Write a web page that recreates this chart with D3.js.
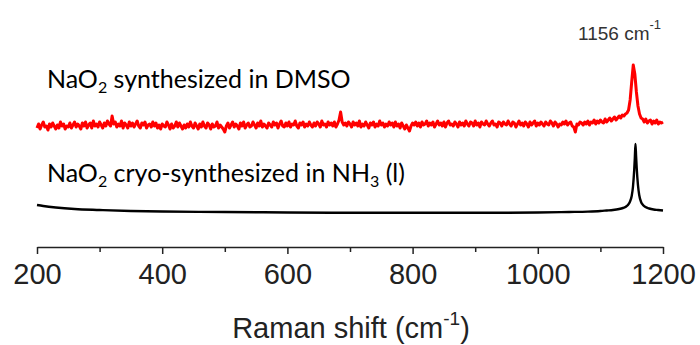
<!DOCTYPE html>
<html>
<head>
<meta charset="utf-8">
<script src="https://cdn.jsdelivr.net/npm/d3@7"></script>
<style>
  html, body { margin: 0; padding: 0; background: #fff; }
  svg { display: block; }
</style>
</head>
<body>
<svg id="chart" width="700" height="345"></svg>
<script>
// Raman shift axis (cm^-1)
const majorTicks = [200, 400, 600, 800, 1000, 1200]
const minorTicks = [300, 500, 700, 900, 1100]

// red trace: NaO2 synthesized in DMSO, sampled every 2.5 cm^-1 from 200 to 1200
const redStart = 200
const redStep = 2.5
const redCounts = [
  52, 54, 51.5, 53.5, 55, 52.5, 53, 51, 54, 52.5, 54.5, 53, 51.5, 53.5, 52, 55, 53, 54, 51.5, 53, 52.5, 54.5, 52, 53.5, 55,
  52.5, 54, 53, 51.5, 54.5, 53, 55, 52, 53.5, 54.5, 52, 55.5, 53, 54, 52.5, 55, 53.5, 52, 54.5, 53, 55.5, 54, 53, 58, 54,
  55, 52.5, 54, 53, 55.5, 52, 54.5, 53.5, 52, 55, 53, 54.5, 52.5, 54, 55.5, 53, 52, 54.5, 53.5, 55, 52, 53.5, 54, 52.5, 55,
  53, 54.5, 52, 53.5, 51.5, 54, 53, 52.5, 55, 53.5, 51.5, 54, 52, 53, 55, 52.5, 54.5, 53, 51.5, 53.5, 52, 54, 52.5, 55, 53,
  52, 54.5, 53, 51.5, 54, 52.5, 55, 53, 52, 54.5, 53.5, 51.5, 54, 52.5, 53, 55, 52, 53.5, 52.5, 51.5, 50, 53, 54.5, 52, 53.5,
  55, 52.5, 54, 53, 51.5, 54.5, 53, 55, 52, 53.5, 54.5, 52.5, 53, 55, 53.5, 52, 54.5, 53, 55.5, 52.5, 54, 53, 52, 54.5, 53.5,
  52.5, 55, 53.5, 54.5, 52, 54, 55.5, 53, 52.5, 54.5, 53, 55, 52.5, 54, 53.5, 55.5, 53, 52, 54.5, 53.5, 55, 52.5, 54, 53, 55,
  53.5, 52.5, 54.5, 53, 55, 54, 52.5, 55.5, 53.5, 54, 52.5, 55, 53.5, 54.5, 53, 55, 52.5, 54, 56, 60, 55, 53.5, 54.5, 53, 55,
  54, 52.5, 55, 53.5, 54.5, 53, 55.5, 52.5, 54, 53, 55, 53.5, 52, 54.5, 53.5, 55, 52.5, 54, 53, 55.5, 53.5, 54.5, 52.5, 54, 53,
  55, 53.5, 54.5, 52.5, 55, 53, 54, 52, 54.5, 53, 51.5, 53.5, 52, 50.5, 53, 54.5, 53.5, 55, 53, 54.5, 52.5, 55, 53.5, 54, 55.5,
  53, 54.5, 53.5, 55, 52.5, 54, 55.5, 53.5, 54.5, 53, 55, 52.5, 54.5, 55.5, 53.5, 54, 53, 55, 54, 52.5, 55, 53.5, 54.5, 53, 55.5,
  54, 53, 55, 54.5, 53, 55.5, 53.5, 54.5, 52.5, 55, 54, 53.5, 55.5, 54, 53, 54.5, 55.5, 53.5, 54, 52.5, 55, 54.5, 53, 55, 54,
  53.5, 55.5, 54, 53, 55, 54.5, 52.5, 54, 55.5, 53.5, 54.5, 53, 55, 54, 52.5, 55, 53.5, 54.5, 55.5, 53, 54.5, 53.5, 55, 54, 53,
  55, 54, 53.5, 55.5, 54.5, 53, 55, 54, 52.5, 54, 53.5, 55, 54, 55.5, 53.5, 54.5, 55, 53, 52.5, 50, 54, 53.5, 55, 54.5, 53.5,
  55, 54, 55.5, 53.5, 55, 54.5, 56, 54, 55.5, 54.5, 56, 55, 54.5, 56.5, 55, 56, 57, 55.5, 56.5, 57.5, 56, 57, 58, 57, 58.5,
  58, 59, 59.5, 61, 66, 75, 83.5, 79, 70, 63, 59, 57, 56.5, 55, 56.5, 54.5, 55.5, 56, 54, 55.5, 54.5, 56, 54, 55, 54.5,
  55
]

// black trace: NaO2 cryo-synthesized in NH3 (l)
const blackShift = [200, 210, 230, 260, 300, 350, 400, 500, 600, 700, 800, 900, 1000, 1050, 1080,
  1100, 1110, 1120, 1130, 1136, 1140, 1144, 1147, 1150, 1152, 1154, 1155, 1156, 1157, 1158, 1160,
  1162, 1165, 1168, 1172, 1178, 1185, 1192, 1200]
const blackCounts = [13.5, 13, 12.25, 11.5, 11, 10.5, 10.25, 10, 9.75, 9.6, 9.6, 9.6, 9.75, 10, 10.2,
  10.5, 10.75, 11, 11.5, 12, 12.5, 13.5, 15, 18, 22.5, 31, 37, 44, 38, 32, 23.5,
  18.5, 15, 13.5, 12.5, 11.75, 11.25, 11, 10.75]

const seriesLabels = ['synthesized in DMSO', 'cryo-synthesized in NH']

const axisFont = "'Liberation Sans', Arial, sans-serif"

const svg = d3.select('#chart')

const x = d3.scaleLinear().domain([200, 1200]).range([37, 663])
const y = d3.scaleLinear().domain([0, 100]).range([232, 32])

const line = d3.line()
  .x((d) => x(d[0]))
  .y((d) => y(d[1]))

const redData = redCounts.map((v, i) => [redStart + i * redStep, v])
const blackData = blackShift.map((s, i) => [s, blackCounts[i]])

svg.append('path')
  .datum(redData)
  .attr('fill', 'none')
  .attr('stroke', '#ff0000')
  .attr('stroke-width', 3)
  .attr('stroke-linejoin', 'round')
  .attr('d', line)

svg.append('path')
  .datum(blackData)
  .attr('fill', 'none')
  .attr('stroke', '#000')
  .attr('stroke-width', 2.4)
  .attr('stroke-linejoin', 'round')
  .attr('d', line.curve(d3.curveMonotoneX))

// axis
const axisY = 247
const gx = svg.append('g').attr('transform', `translate(0,${axisY})`)
gx.call(d3.axisBottom(x).tickValues(majorTicks).tickFormat(d3.format('d'))
  .tickSize(7).tickSizeOuter(0).tickPadding(9))
gx.select('.domain').attr('stroke', '#222').attr('stroke-width', 1.5)
gx.selectAll('.tick line').attr('stroke', '#222').attr('stroke-width', 1.5)
gx.selectAll('.tick text')
  .attr('fill', '#222')
  .style('font-family', axisFont)
  .style('font-size', '29px')

const gMinor = svg.append('g').attr('transform', `translate(0,${axisY})`)
gMinor.call(d3.axisBottom(x).tickValues(minorTicks).tickSize(5).tickFormat(''))
gMinor.select('.domain').remove()
gMinor.selectAll('.tick line').attr('stroke', '#222').attr('stroke-width', 1.5)

// axis title
const title = svg.append('text')
  .attr('x', 351)
  .attr('y', 338)
  .attr('text-anchor', 'middle')
  .attr('fill', '#222')
  .style('font-family', axisFont)
  .style('font-size', '29px')
title.append('tspan').text('Raman shift (cm')
title.append('tspan').style('font-size', '19px').attr('dy', -13).text('-1')
title.append('tspan').attr('dy', 13).text(')')

// peak label
const peak = svg.append('text')
  .attr('x', 578)
  .attr('y', 40)
  .attr('fill', '#333')
  .style('font-family', axisFont)
  .style('font-size', '19px')
peak.append('tspan').text('1156 cm')
peak.append('tspan').style('font-size', '13px').attr('dy', -11).text('-1')

// series labels
function seriesLabel(yPos, rest, tail) {
  const t = svg.append('text')
    .attr('x', 47)
    .attr('y', yPos)
    .attr('fill', '#000')
    .style('font-family', 'Lato, Carlito, Calibri, sans-serif')
    .style('font-size', '25px')
  t.append('tspan').text('NaO')
  t.append('tspan').style('font-size', '16px').attr('dy', 5).text('2')
  t.append('tspan').attr('dy', -5).text(' ' + rest)
  if (tail) {
    t.append('tspan').style('font-size', '16px').attr('dy', 5).text('3')
    t.append('tspan').attr('dy', -5).text(' (l)')
  }
}
seriesLabel(88, seriesLabels[0], false)
seriesLabel(182, seriesLabels[1], true)
</script>
</body>
</html>
